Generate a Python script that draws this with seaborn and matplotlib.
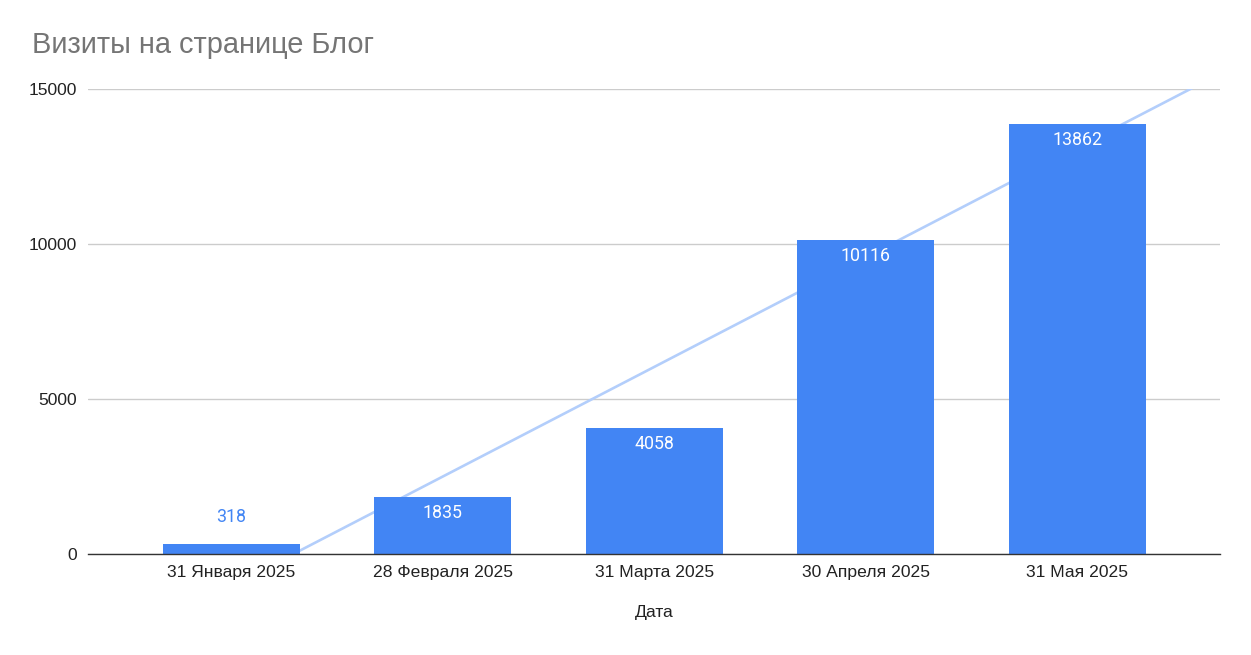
import numpy as np
import pandas as pd
import seaborn as sns
import matplotlib.pyplot as plt

# Data
dates = ["31 Января 2025", "28 Февраля 2025", "31 Марта 2025", "30 Апреля 2025", "31 Мая 2025"]
visits = [318, 1835, 4058, 10116, 13862]
y_ticks = [0, 5000, 10000, 15000]

df = pd.DataFrame({"Дата": dates, "Визиты": visits})

sns.set_theme(style="white")
plt.rcParams["font.family"] = ["Liberation Sans", "DejaVu Sans"]

bar_color = "#4285F4"
trend_color = "#B3CEFB"

fig = plt.figure(figsize=(12.51, 6.55), dpi=100)
ax = fig.add_axes([88 / 1251, 101 / 655, 1132 / 1251, 465 / 655])

ax.set_axisbelow(True)
ax.yaxis.grid(True, color="#CCCCCC", linewidth=1)

sns.barplot(data=df, x="Дата", y="Визиты", color=bar_color, saturation=1,
            width=0.648, ax=ax, zorder=2)
for p in ax.patches:
    p.set_edgecolor("none")

# linear trendline (behind the bars)
xs = np.arange(len(visits))
k, b = np.polyfit(xs, visits, 1)
xl = np.array([-1, len(visits)])
ax.plot(xl, k * xl + b, color=trend_color, linewidth=1.9, zorder=1.5)

ax.set_ylim(0, 15000)
ax.set_xlim(-0.678, 4.674)
ax.set_yticks(y_ticks)
ax.set_yticklabels([str(t) for t in y_ticks])

# value labels
for i, v in enumerate(visits):
    if v > 1000:
        ax.annotate(str(v), (i, v), xytext=(0, -11.5), textcoords="offset points",
                    ha="center", va="center", color="white", fontsize=12.8,
                    family=["Roboto", "DejaVu Sans"], zorder=3)
    else:
        ax.annotate(str(v), (i, v), xytext=(0, 19.5), textcoords="offset points",
                    ha="center", va="center", color=bar_color, fontsize=12.8,
                    family=["Roboto", "DejaVu Sans"], zorder=3)

for s in ["top", "right", "left"]:
    ax.spines[s].set_visible(False)
ax.spines["bottom"].set_color("#333333")
ax.spines["bottom"].set_linewidth(1)
ax.spines["bottom"].set_zorder(4)

ax.tick_params(axis="both", length=0, labelsize=12.6, colors="#222222")
ax.tick_params(axis="y", pad=8)
ax.tick_params(axis="x", pad=8)
ax.set_ylabel("")
ax.set_xlabel("Дата", fontsize=12.6, color="#222222", labelpad=18)

fig.text(32 / 1251, 1 - 45 / 655, "Визиты на странице Блог", fontsize=20.9,
         color="#757575", va="center", ha="left")

fig.savefig("out.png", dpi=100, facecolor="white")
